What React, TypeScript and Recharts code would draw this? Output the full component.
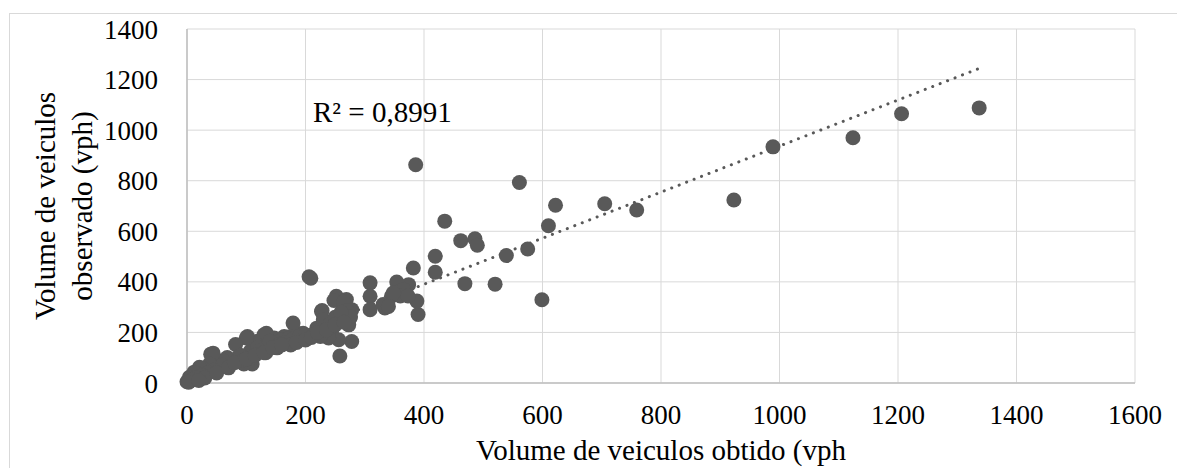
import * as React from "react";
import { ScatterChart, Scatter, XAxis, YAxis, CartesianGrid, ReferenceLine } from "recharts";

// obtained (x) vs observed (y), vph
const obtido = [
  1337, 1206, 1124, 989, 923, 759, 705, 622, 610, 561, 386, 435, 462, 486, 490, 539, 575, 419, 419, 469,
  520, 599, 382, 390, 388, 374, 354, 345, 334, 365, 360, 373, 309, 309, 309, 331, 348, 340,
  206, 209, 227, 252, 269, 264, 275, 278, 278, 258, 233, 244, 219, 228, 248, 264, 270, 259, 256, 273,
  276, 239, 225, 208, 197, 186, 196, 179, 175, 164, 152, 147, 133, 133, 130, 119, 134, 110, 107, 102,
  100, 96, 88, 82, 74, 68, 60, 52, 40, 44, 38, 28, 21, 18, 12, 4, 0,
  150, 160, 170, 180, 190, 200, 215, 230, 240, 250, 260, 140, 120, 90, 95, 110, 125, 140, 155, 165,
  175, 185, 60, 45, 35, 25, 15, 8, 3, 30, 20, 50, 70, 80, 100, 115, 130, 145, 160, 200, 210, 220,
  235, 250, 265,
];
const observado = [
  1088, 1065, 970, 934, 724, 684, 709, 703, 622, 793, 863, 640, 563, 570, 545, 504, 530, 501, 438, 393,
  391, 329, 455, 271, 324, 389, 399, 343, 297, 370, 344, 344, 396, 343, 290, 310, 356, 303,
  420, 414, 283, 343, 330, 264, 257, 290, 164, 107, 244, 204, 217, 287, 326, 319, 287, 248, 171, 230,
  262, 178, 184, 184, 178, 197, 197, 237, 184, 184, 139, 178, 146, 120, 191, 165, 197, 75, 126, 184,
  178, 75, 107, 152, 75, 101, 88, 68, 114, 118, 75, 55, 62, 36, 43, 23, 5,
  160, 170, 175, 175, 185, 190, 195, 250, 230, 260, 280, 150, 140, 110, 90, 100, 130, 165, 150, 160,
  150, 160, 70, 50, 40, 30, 20, 12, 3, 20, 10, 40, 60, 80, 95, 110, 120, 140, 150, 170, 180, 200,
  210, 230, 240,
];

const xTicks = [0, 200, 400, 600, 800, 1000, 1200, 1400, 1600];
const yTicks = [0, 200, 400, 600, 800, 1000, 1200, 1400];

// linear trendline
const trendSlope = 0.911;
const trendIntercept = 26;
const rSquared = "R² = 0,8991";

const points = obtido.map((x, i) => ({ x, y: observado[i] }));
const xMax = Math.max(...obtido);

const FONT = "'Liberation Serif', 'Times New Roman', serif";
const DOT = "#595959";
const GRID = "#d9d9d9";

const Dot = (p: any) => <circle cx={p.cx} cy={p.cy} r={7.5} fill={DOT} />;

const YTitle = () => (
  <g fontFamily={FONT} fontSize={29} fill="#000">
    <text x={45} y={206} transform="rotate(-90 45 206)" textAnchor="middle" dominantBaseline="central">
      Volume de veiculos
    </text>
    <text x={82} y={206} transform="rotate(-90 82 206)" textAnchor="middle" dominantBaseline="central">
      observado (vph)
    </text>
  </g>
);

export default function App() {
  return (
    <div style={{ position: "fixed", left: 0, top: 0, width: 1177, height: 468, background: "#fff", overflow: "hidden" }}>
      <div style={{ position: "absolute", left: 9, top: 13, width: 1400, height: 700, borderTop: `1px solid ${GRID}`, borderLeft: `1px solid ${GRID}` }} />
      <div style={{ position: "absolute", left: 0, top: 0 }}>
        <ScatterChart width={1177} height={468} margin={{ top: 29, right: 42, left: 0, bottom: 0 }}>
          <CartesianGrid stroke={GRID} strokeWidth={1} />
          <XAxis
            type="number"
            dataKey="x"
            domain={[0, 1600]}
            ticks={xTicks}
            interval={0}
            height={85}
            tickLine={false}
            tickSize={0}
            tickMargin={22}
            axisLine={{ stroke: "#bfbfbf", strokeWidth: 1.5 }}
            tick={{ fontFamily: FONT, fontSize: 27, fill: "#000" }}
            label={{ value: "Volume de veiculos obtido (vph", position: "insideBottom", offset: 8, fontFamily: FONT, fontSize: 29, fill: "#000" }}
          />
          <YAxis
            type="number"
            dataKey="y"
            domain={[0, 1400]}
            ticks={yTicks}
            interval={0}
            width={187}
            tickLine={false}
            tickSize={0}
            tickMargin={29}
            axisLine={{ stroke: "#bfbfbf", strokeWidth: 1.5 }}
            tick={{ fontFamily: FONT, fontSize: 27, fill: "#000" }}
            label={{ content: () => <YTitle /> }}
          />
          <Scatter data={points} shape={Dot} isAnimationActive={false} />
          <ReferenceLine
            segment={[
              { x: 0, y: trendIntercept },
              { x: xMax, y: trendIntercept + trendSlope * xMax },
            ]}
            stroke={DOT}
            strokeWidth={3}
            strokeDasharray="0.1 7.9"
            strokeLinecap="round"
          />
        </ScatterChart>
      </div>
      <div style={{ position: "absolute", left: 313, top: 98, fontFamily: FONT, fontSize: 29, lineHeight: "29px", color: "#000", whiteSpace: "nowrap" }}>
        {rSquared}
      </div>
    </div>
  );
}
